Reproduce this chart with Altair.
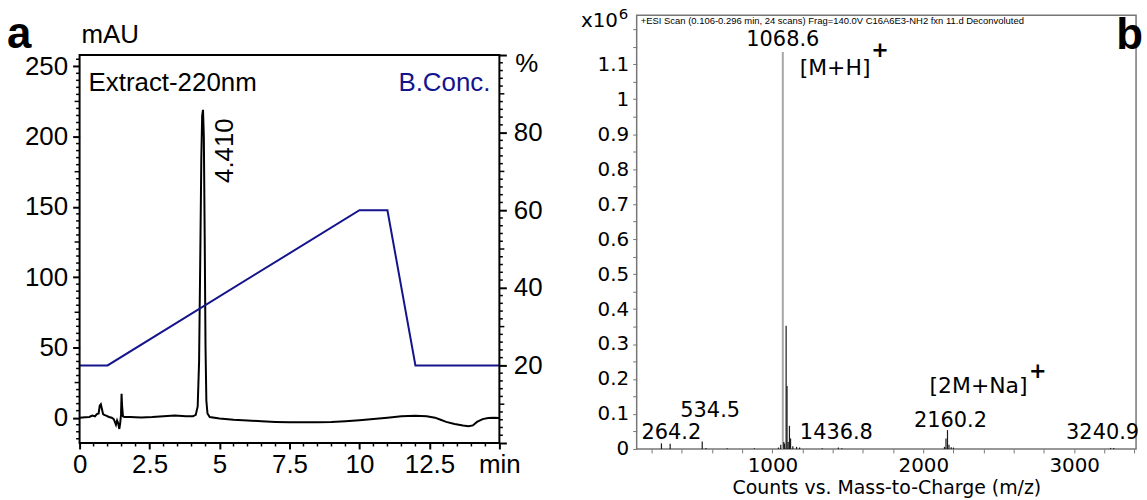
import altair as alt
import pandas as pd

# ---------------- panel a : chromatogram ----------------
time_min = [0.0, 0.2, 0.35, 0.45, 0.55, 0.62, 0.68, 0.72, 0.76, 0.80, 0.84, 0.88, 0.95, 1.05,
            1.15, 1.22, 1.26, 1.30, 1.34, 1.38, 1.42, 1.45, 1.48, 1.50, 1.52, 1.55, 1.60, 1.8,
            2.2, 2.6, 3.0, 3.4, 3.8, 4.05, 4.15, 4.22, 4.27, 4.31, 4.35, 4.38, 4.41, 4.44,
            4.47, 4.50, 4.53, 4.57, 4.65, 5.0, 5.5, 6.0, 6.5, 7.0, 7.5, 8.0, 8.5, 9.0, 9.5,
            10.0, 10.5, 11.0, 11.5, 12.0, 12.4, 12.7, 12.9, 13.1, 13.4, 13.7, 13.9, 14.05,
            14.2, 14.4, 14.6, 14.8, 15.0]
absorb_mau = [0.0, 0.3, 0.5, 1.5, 1.0, 2.5, 3.0, 8.5, 9.5, 6.0, 2.5, 2.0, 1.5, 0.5,
              0.0, -1.0, -3.0, -5.0, -2.0, -4.0, -8.0, -4.0, 2.0, 17.0, 8.0, 1.0, 0.5, 0.5,
              0.2, 0.5, 1.0, 1.5, 1.0, 1.0, 2.0, 8.0, 40.0, 110.0, 185.0, 215.0, 219.0, 200.0,
              130.0, 50.0, 12.0, 3.0, 0.5, -0.5, -1.5, -2.0, -2.5, -3.0, -3.3, -3.3, -3.2, -3.0, -2.5,
              -1.8, -1.0, 0.0, 1.0, 1.3, 1.0, 0.0, -1.5, -3.0, -4.5, -5.5, -6.0, -5.5,
              -3.0, -1.0, -0.2, 0.0, -0.2]
grad_time = [0, 1, 10, 11, 12, 15]
grad_conc = [20, 20, 60, 60, 20, 20]
peak_rt = [4.41]
peak_text = ["4.410"]
peak_text_mau = [190]

x_major_a = [0, 2.5, 5, 7.5, 10, 12.5, 15]
x_minor_a = [i * 0.5 for i in range(31) if (i * 0.5) % 2.5 != 0]
y_major_a = [0, 50, 100, 150, 200, 250]
y_mid_a = [25, 75, 125, 175, 225]
y_minor_a = [v for v in range(-15, 256, 5) if v % 25 != 0]
c_major = [0, 20, 40, 60, 80, 100]
c_mid = [10, 30, 50, 70, 90]
c_minor = [v for v in range(0, 101, 2) if v % 10 != 0]

# ---------------- panel b : mass spectrum ----------------
mz = [264.2, 322.0, 534.5, 560.0, 700.0, 880.0, 1040.0, 1055.0, 1068.6, 1075.0, 1080.0,
      1090.6, 1096.6, 1104.0, 1112.6, 1120.0, 1135.0, 1160.0, 1180.0, 1330.0, 1436.8,
      1460.0, 2140.0, 2150.2, 2160.2, 2170.0, 2185.0, 2200.0, 3240.9, 3262.0]
counts_1e6 = [0.016, 0.015, 0.021, 0.003, 0.002, 0.002, 0.004, 0.012, 1.135, 0.02, 0.015,
              0.352, 0.18, 0.02, 0.066, 0.03, 0.008, 0.006, 0.004, 0.002, 0.004,
              0.002, 0.006, 0.03, 0.054, 0.012, 0.005, 0.004, 0.003, 0.003]
base_peak = 1068.6
peak_labels = ["1068.6", "264.2", "534.5", "1436.8", "2160.2", "3240.9"]
peak_label_mz = [1068.6, 264.2, 534.5, 1436.8, 2160.2, 3240.9]
peak_label_y = [1.17, 0.046, 0.109, 0.046, 0.080, 0.046]
peak_label_dx = [0, 10, 8, -2, 3, -8]
ion_labels = ["[M+H]", "[2M+Na]"]
ion_label_mz = [1068.6, 2160.2]
ion_label_y = [1.09, 0.18]
ion_label_dx = [17, -18]
ion_plus_dx = [72, 100]
ion_plus_dy = [-17, -14]
x_ticks_b = list(range(200, 3401, 200))
y_ticks_b = [round(i * 0.05, 2) for i in range(25)]
header = "+ESI Scan (0.106-0.296 min, 24 scans) Frag=140.0V C16A6E3-NH2 fxn 11.d  Deconvoluted"

FA = "Liberation Sans"
FB = "DejaVu Sans"
NAVY = "#14148c"
WA = 422
HA = 430          # panel a view: from y=12 to y=442 (frame starts 40 px lower)
TOPA = 40
WB, HB = 502, 436

one = pd.DataFrame({"k": [0]})


def txt(s, x, y, font, size, color="black", align="left", baseline="middle", weight="normal"):
    return alt.Chart(one).mark_text(text=s, font=font, fontSize=size, color=color, align=align,
                                    baseline=baseline, fontWeight=weight).encode(
        x=alt.value(x), y=alt.value(y))


# ---------- panel a ----------
df_tr = pd.DataFrame({"t": time_min, "a": absorb_mau})
df_gr = pd.DataFrame({"t": grad_time, "c": grad_conc})
df_pk = pd.DataFrame({"t": peak_rt, "a": peak_text_mau, "s": peak_text})

xA = alt.Scale(domain=[0, 15], nice=False, zero=False)
yA = alt.Scale(domain=[-18, 258], nice=False, zero=False, range=[HA, TOPA])
yC = alt.Scale(domain=[0, 100], nice=False, zero=False, range=[HA, TOPA])

common_a = dict(tickWidth=2, tickColor="black", domain=False, grid=False, labelFont=FA,
                labelFontSize=26, labelColor="black", labelOverlap=False, labelFlush=False)
AXA_X = alt.Axis(values=x_major_a,
                 labelExpr="datum.value == 15 ? 'min' : '' + datum.value",
                 tickSize=6, labelPadding=3, **common_a)
AXA_Y = alt.Axis(values=y_major_a, format="d", tickSize=7, labelPadding=5, **common_a)
AXA_C = alt.Axis(orient="right", values=c_major, format="d",
                 labelExpr="datum.value > 0 && datum.value < 100 ? datum.label : ''",
                 tickSize=7, labelPadding=7, **common_a)

X_A = alt.X("v:Q", scale=xA, title=None, axis=AXA_X)

bound_a = alt.Chart(one).mark_rule(color="white", strokeWidth=1).encode(
    x=alt.value(-79), x2=alt.value(WA + 70), y=alt.value(-12), y2=alt.value(-12))

frame_a = alt.Chart(one).mark_rect(fillOpacity=0, stroke="black", strokeWidth=2).encode(
    x=alt.value(0), x2=alt.value(WA), y=alt.value(TOPA), y2=alt.value(HA))

trace = alt.Chart(df_tr).mark_line(color="black", strokeWidth=2).encode(
    x=alt.X("t:Q", scale=xA, title=None, axis=AXA_X),
    y=alt.Y("a:Q", scale=yA, title=None, axis=AXA_Y),
)
peak_lbl = alt.Chart(df_pk).mark_text(font=FA, fontSize=26, angle=270, dy=22, align="center",
                                      baseline="middle", color="black").encode(
    x=alt.X("t:Q", scale=xA, title=None, axis=AXA_X),
    y=alt.Y("a:Q", scale=yA, title=None, axis=AXA_Y), text="s:N")


def yticks(vals, scale, axis, x0, x1, width):
    return alt.Chart(pd.DataFrame({"v": vals})).mark_rule(color="black", strokeWidth=width).encode(
        y=alt.Y("v:Q", scale=scale, title=None, axis=axis), x=alt.value(x0), x2=alt.value(x1))


xminor = alt.Chart(pd.DataFrame({"v": x_minor_a})).mark_rule(color="black", strokeWidth=1.5).encode(
    x=X_A, y=alt.value(HA), y2=alt.value(HA + 3.5))

left_group = alt.layer(
    trace, peak_lbl,
    yticks(y_mid_a, yA, AXA_Y, 0, -5, 1.5),
    yticks(y_minor_a, yA, AXA_Y, 0, -3.5, 1.5),
    xminor,
)

grad = alt.Chart(df_gr).mark_line(color=NAVY, strokeWidth=2).encode(
    x=alt.X("t:Q", scale=xA, title=None, axis=AXA_X),
    y=alt.Y("c:Q", scale=yC, title=None, axis=AXA_C),
)
right_group = alt.layer(
    grad,
    yticks(c_mid, yC, AXA_C, WA, WA + 5, 1.5),
    yticks(c_minor, yC, AXA_C, WA, WA + 3.5, 1.5),
)

panel_a = alt.layer(
    bound_a,
    left_group,
    right_group,
    frame_a,
    txt("Extract-220nm", 9, 68, FA, 26),
    txt("B.Conc.", WA - 9, 68, FA, 26, color=NAVY, align="right"),
    txt("mAU", 2, 20, FA, 26),
    txt("%", WA + 16, 49, FA, 26),
    txt("a", -73, 33, FA, 44, baseline="alphabetic", weight="bold"),
).resolve_scale(y="independent").properties(width=WA, height=HA)

# ---------- panel b ----------
df_ms = pd.DataFrame({"mz": mz, "i": counts_1e6,
                      "base": [0.0] * len(mz),
                      "kind": ["main" if m == base_peak else "other" for m in mz]})
xB = alt.Scale(domain=[100, 3410], nice=False, zero=False)
yB = alt.Scale(domain=[0, 1.24], nice=False, zero=False)
XTITLE = "Counts vs. Mass-to-Charge (m/z)"

AXB_X = alt.Axis(values=x_ticks_b, format="d",
                 labelExpr="datum.value % 1000 == 0 ? datum.label : ''",
                 tickSize=4, tickColor="#777777", tickWidth=1, domain=False, grid=False,
                 labelFont=FB, labelFontSize=20, labelColor="black", labelPadding=3,
                 labelOverlap=False, labelFlush=False, titleFont=FB, titleFontSize=19,
                 titleFontWeight="normal", titleColor="black", titlePadding=3)
AXB_Y = alt.Axis(values=y_ticks_b,
                 labelExpr="(round(datum.value * 100) % 10 == 0 && datum.value < 1.15) ? '' + datum.value : ''",
                 tickSize=4, tickColor="#777777", tickWidth=1, domain=False, grid=False,
                 labelFont=FB, labelFontSize=20, labelColor="black", labelPadding=4,
                 labelOverlap=False, labelFlush=False)

bound_b = alt.Chart(one).mark_rule(color="white", strokeWidth=1).encode(
    x=alt.value(-65), x2=alt.value(WB + 9), y=alt.value(-12), y2=alt.value(-12))

spec = alt.Chart(df_ms).mark_rule().encode(
    x=alt.X("mz:Q", scale=xB, title=XTITLE, axis=AXB_X),
    y=alt.Y("i:Q", scale=yB, title=None, axis=AXB_Y),
    y2="base:Q",
    color=alt.Color("kind:N", scale=alt.Scale(domain=["main", "other"],
                                              range=["#a6a6a6", "#1a1a1a"]), legend=None),
    strokeWidth=alt.StrokeWidth("kind:N", scale=alt.Scale(domain=["main", "other"],
                                                          range=[2, 1.2]), legend=None),
)

ann_layers = []
for s, m, yv, dx in zip(peak_labels, peak_label_mz, peak_label_y, peak_label_dx):
    d = pd.DataFrame({"mz": [m], "y": [yv]})
    ann_layers.append(alt.Chart(d).mark_text(text=s, font=FB, fontSize=21, dx=dx, align="center",
                                             baseline="middle", color="black").encode(
        x=alt.X("mz:Q", scale=xB, title=XTITLE, axis=AXB_X),
        y=alt.Y("y:Q", scale=yB, title=None, axis=AXB_Y)))
for s, m, yv, dx, pdx, pdy in zip(ion_labels, ion_label_mz, ion_label_y, ion_label_dx,
                                   ion_plus_dx, ion_plus_dy):
    d = pd.DataFrame({"mz": [m], "y": [yv]})
    ann_layers.append(alt.Chart(d).mark_text(text=s, font=FB, fontSize=22, dx=dx, align="left",
                                             baseline="middle", color="black").encode(
        x=alt.X("mz:Q", scale=xB, title=XTITLE, axis=AXB_X),
        y=alt.Y("y:Q", scale=yB, title=None, axis=AXB_Y)))
    ann_layers.append(alt.Chart(d).mark_text(text="+", font=FB, fontSize=21, fontWeight="bold",
                                             dx=dx + pdx, dy=pdy, align="left",
                                             baseline="middle", color="black").encode(
        x=alt.X("mz:Q", scale=xB, title=XTITLE, axis=AXB_X),
        y=alt.Y("y:Q", scale=yB, title=None, axis=AXB_Y)))

panel_b = alt.layer(
    bound_b,
    spec,
    *ann_layers,
    txt("x10", -56, 6, FB, 20),
    txt("6", -18, -1, FB, 15),
    txt(header, 4, 6, FA, 9.5),
    txt("b", 482, 34, FA, 44, baseline="alphabetic", weight="bold"),
).properties(width=WB, height=HB,
             view=alt.ViewBackground(stroke="#777777", strokeWidth=1.5))

chart = alt.hconcat(panel_a, panel_b, spacing=0).properties(padding=0).configure_view(
    stroke=None)

chart.save("out.html", embed_options={"renderer": "svg", "actions": False})
